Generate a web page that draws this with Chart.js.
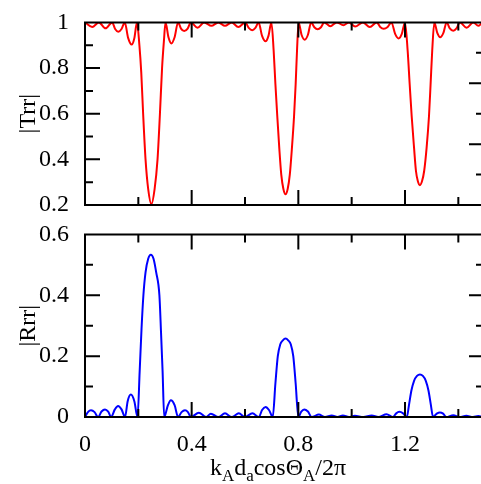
<!DOCTYPE html>
<html>
<head>
<meta charset="utf-8">
<script src="https://cdn.jsdelivr.net/npm/chart.js@4"></script>
<style>
  html, body { margin: 0; padding: 0; background: #fff; }
  #wrap { position: relative; width: 481px; height: 484px; overflow: hidden; font-family: "Liberation Serif", serif; }
  canvas { position: absolute; left: 0; }
  #cTop { top: 0; }
  #cBot { top: 212px; }
  #xTitle { position: absolute; left: 80px; width: 396px; top: 455px; text-align: center; font-size: 24px; line-height: 24px; color: #000; white-space: nowrap; }
  #xTitle sub { font-size: 17px; vertical-align: -6px; line-height: 0; }
</style>
</head>
<body>
<div id="wrap">
  <canvas id="cTop" width="481" height="230"></canvas>
  <canvas id="cBot" width="481" height="272"></canvas>
  <div id="xTitle">k<sub>A</sub>d<sub>a</sub>cosΘ<sub>A</sub>/2π</div>
</div>
<script>
// |Trr|
const xTrr = [
  0, 0.027, 0.052, 0.077, 0.102, 0.113, 0.125, 0.137, 0.149, 0.162, 0.175, 0.185, 0.195,
  0.204, 0.211, 0.218, 0.227, 0.237, 0.249, 0.261, 0.272, 0.281, 0.289, 0.296, 0.302,
  0.313, 0.324, 0.336, 0.349, 0.360, 0.372, 0.385, 0.397, 0.422, 0.447, 0.474, 0.500, 0.525, 0.550, 0.575, 0.601,
  0.614, 0.627, 0.639, 0.651, 0.664, 0.677, 0.688, 0.699,
  0.7075, 0.714, 0.721, 0.7285, 0.736, 0.744, 0.752, 0.760, 0.768, 0.776, 0.784, 0.790, 0.795, 0.801,
  0.812, 0.824, 0.836, 0.848, 0.860, 0.872, 0.885, 0.897, 0.920, 0.944, 0.969, 0.990, 1.013, 1.042, 1.068, 1.094,
  1.107, 1.120, 1.135, 1.149, 1.163, 1.176, 1.188, 1.200,
  1.210, 1.2175, 1.225, 1.234, 1.241, 1.248, 1.256, 1.264, 1.272, 1.281, 1.290, 1.296, 1.302, 1.310,
  1.321, 1.332, 1.344, 1.356, 1.368, 1.381, 1.393, 1.406, 1.431, 1.456, 1.475, 1.490
];
const yTrr = [
  1, 0.980, 1, 0.974, 1, 0.971, 0.959, 0.971, 1, 0.931, 0.903, 0.931, 1,
  0.90, 0.78, 0.60, 0.40, 0.27, 0.204, 0.27, 0.40, 0.60, 0.80, 0.92, 1,
  0.935, 0.908, 0.935, 1, 0.973, 0.962, 0.973, 1, 0.977, 1, 0.985, 1, 0.985, 1, 0.980, 1,
  0.976, 0.966, 0.976, 1, 0.941, 0.917, 0.941, 1,
  0.875, 0.73, 0.59, 0.45, 0.333, 0.27, 0.247, 0.27, 0.333, 0.45, 0.59, 0.73, 0.875, 1,
  0.946, 0.924, 0.946, 1, 0.979, 0.970, 0.979, 1, 0.983, 1, 0.988, 1, 0.982, 1, 0.980, 1,
  0.98, 0.972, 0.98, 1, 0.95, 0.930, 0.95, 1,
  0.875, 0.73, 0.59, 0.45, 0.35, 0.305, 0.287, 0.305, 0.35, 0.45, 0.59, 0.73, 0.875, 1,
  0.954, 0.935, 0.954, 1, 0.974, 0.963, 0.974, 1, 0.977, 1, 0.985, 1
];

// |Rrr|
const xRrr = [
  0, 0.011, 0.0225, 0.036, 0.049, 0.062, 0.075, 0.087, 0.098, 0.112, 0.124, 0.137, 0.150, 0.160, 0.172, 0.185, 0.197,
  0.205, 0.212, 0.219, 0.227, 0.237, 0.247, 0.257, 0.267, 0.279, 0.285, 0.291, 0.297,
  0.311, 0.322, 0.336, 0.349, 0.362, 0.375, 0.386, 0.397, 0.427, 0.454, 0.472, 0.500, 0.525, 0.550, 0.577, 0.600,
  0.628, 0.652, 0.664, 0.677, 0.690, 0.704,
  0.714, 0.723, 0.732, 0.742, 0.752, 0.762, 0.772, 0.781, 0.790, 0.800,
  0.811, 0.822, 0.836, 0.850, 0.877, 0.900, 0.925, 0.947, 0.967, 0.990, 1.012, 1.044, 1.075, 1.100, 1.131, 1.155,
  1.167, 1.179, 1.193, 1.207,
  1.215, 1.224, 1.234, 1.245, 1.256, 1.267, 1.278, 1.288, 1.297, 1.305,
  1.319, 1.331, 1.343, 1.355, 1.381, 1.405, 1.430, 1.455, 1.475, 1.490
];
const yRrr = [
  0, 0.016, 0.022, 0.016, 0, 0.018, 0.025, 0.018, 0, 0.025, 0.036, 0.025, 0, 0.052, 0.074, 0.052, 0,
  0.15, 0.29, 0.40, 0.475, 0.52, 0.533, 0.52, 0.475, 0.40, 0.28, 0.15, 0,
  0.039, 0.055, 0.039, 0, 0.016, 0.022, 0.016, 0, 0.014, 0, 0.011, 0, 0.012, 0, 0.012, 0,
  0.012, 0, 0.023, 0.033, 0.023, 0,
  0.11, 0.20, 0.238, 0.252, 0.258, 0.252, 0.238, 0.20, 0.11, 0,
  0.018, 0.025, 0.018, 0, 0.008, 0, 0.005, 0, 0.005, 0, 0.004, 0, 0.005, 0, 0.009, 0,
  0.012, 0.017, 0.012, 0,
  0.04, 0.087, 0.119, 0.135, 0.14, 0.135, 0.119, 0.087, 0.04, 0,
  0.011, 0.015, 0.011, 0, 0.006, 0, 0.004, 0, 0.003, 0
];

// axes
const xMin = 0, xMax = 1.485;
const xMajorTicks = [0, 0.4, 0.8, 1.2];
const xMinorTicks = [0.2, 0.6, 1.0, 1.4];
const trrMajorTicks = [0.2, 0.4, 0.6, 0.8, 1];
const trrMinorTicks = [0.3, 0.5, 0.7, 0.9];
const rrrMajorTicks = [0, 0.2, 0.4, 0.6];
const rrrMinorTicks = [0.1, 0.3, 0.5];
const rightMajorTicks = [2, 4];
const rightMinorTicks = [1, 3, 5];

const serif = '"Liberation Serif", "Times New Roman", serif';
Chart.defaults.font.family = serif;
Chart.defaults.color = '#000';
const bigFont = { family: serif, size: 24 };

function toPoints(xs, ys) {
  return xs.map(function (x, i) { return { x: x, y: ys[i] }; });
}

// frame with inward ticks on all sides, positions from the chart's scales
function makeFrame(yMajor, yMinor) {
  return {
    id: 'frame',
    afterDatasetsDraw(chart) {
      const ctx = chart.ctx, a = chart.chartArea;
      const sx = chart.scales.x, sy = chart.scales.y, sr = chart.scales.yr;
      ctx.save();
      ctx.strokeStyle = '#000';
      ctx.lineWidth = 2;
      ctx.beginPath();
      ctx.moveTo(a.right + 2, a.top); ctx.lineTo(a.left, a.top);
      ctx.lineTo(a.left, a.bottom); ctx.lineTo(a.right + 2, a.bottom);
      const seg = function (x0, y0, x1, y1) { ctx.moveTo(x0, y0); ctx.lineTo(x1, y1); };
      xMajorTicks.forEach(function (v) {
        const p = sx.getPixelForValue(v);
        seg(p, a.top, p, a.top + 15); seg(p, a.bottom, p, a.bottom - 15);
      });
      xMinorTicks.forEach(function (v) {
        const p = sx.getPixelForValue(v);
        seg(p, a.top, p, a.top + 8); seg(p, a.bottom, p, a.bottom - 8);
      });
      yMajor.forEach(function (v) {
        const p = sy.getPixelForValue(v);
        seg(a.left, p, a.left + 15, p);
      });
      yMinor.forEach(function (v) {
        const p = sy.getPixelForValue(v);
        seg(a.left, p, a.left + 8, p);
      });
      rightMajorTicks.forEach(function (v) {
        const p = sr.getPixelForValue(v);
        seg(a.right, p, a.right - 12, p);
      });
      rightMinorTicks.forEach(function (v) {
        const p = sr.getPixelForValue(v);
        seg(a.right, p, a.right - 5, p);
      });
      ctx.stroke();
      ctx.restore();
    }
  };
}

function yAxis(min, max, ticks, title) {
  return {
    type: 'linear', min: min, max: max,
    afterBuildTicks: function (s) { s.ticks = ticks.map(function (v) { return { value: v }; }); },
    afterFit: function (s) { s.width = 85; },
    grid: { display: false }, border: { display: false },
    ticks: { font: bigFont, padding: 8, color: '#000', callback: function (v) { return String(v); } },
    title: { display: true, text: title, font: bigFont, color: '#000', padding: { top: 14, bottom: 0 } }
  };
}

const rightAxis = { type: 'linear', position: 'right', min: 0, max: 6, display: false };

new Chart(document.getElementById('cTop'), {
  type: 'line',
  data: {
    datasets: [{
      data: toPoints(xTrr, yTrr),
      borderColor: '#ff0000', borderWidth: 2,
      pointRadius: 0, fill: false, cubicInterpolationMode: 'monotone'
    }]
  },
  options: {
    responsive: false, animation: false,
    layout: { padding: { top: 18, right: 0, bottom: 25, left: 0 } },
    plugins: { legend: { display: false }, tooltip: { enabled: false } },
    scales: {
      x: { type: 'linear', min: xMin, max: xMax, display: false },
      y: yAxis(0.2, 1, trrMajorTicks, '|Trr|'),
      yr: rightAxis
    }
  },
  plugins: [makeFrame(trrMajorTicks, trrMinorTicks)]
});

new Chart(document.getElementById('cBot'), {
  type: 'line',
  data: {
    datasets: [{
      data: toPoints(xRrr, yRrr),
      borderColor: '#0000ff', borderWidth: 2,
      pointRadius: 0, fill: false, cubicInterpolationMode: 'monotone'
    }]
  },
  options: {
    responsive: false, animation: false,
    layout: { padding: { top: 18, right: 0, bottom: 0, left: 0 } },
    plugins: { legend: { display: false }, tooltip: { enabled: false } },
    scales: {
      x: {
        type: 'linear', min: xMin, max: xMax,
        afterBuildTicks: function (s) { s.ticks = xMajorTicks.map(function (v) { return { value: v }; }); },
        afterFit: function (s) { s.height = 67; },
        grid: { display: false }, border: { display: false },
        ticks: { font: bigFont, padding: 5, color: '#000', maxRotation: 0, autoSkip: false,
          callback: function (v) { return String(v); } }
      },
      y: yAxis(0, 0.6, rrrMajorTicks, '|Rrr|'),
      yr: rightAxis
    }
  },
  plugins: [makeFrame(rrrMajorTicks, rrrMinorTicks)]
});
</script>
</body>
</html>
